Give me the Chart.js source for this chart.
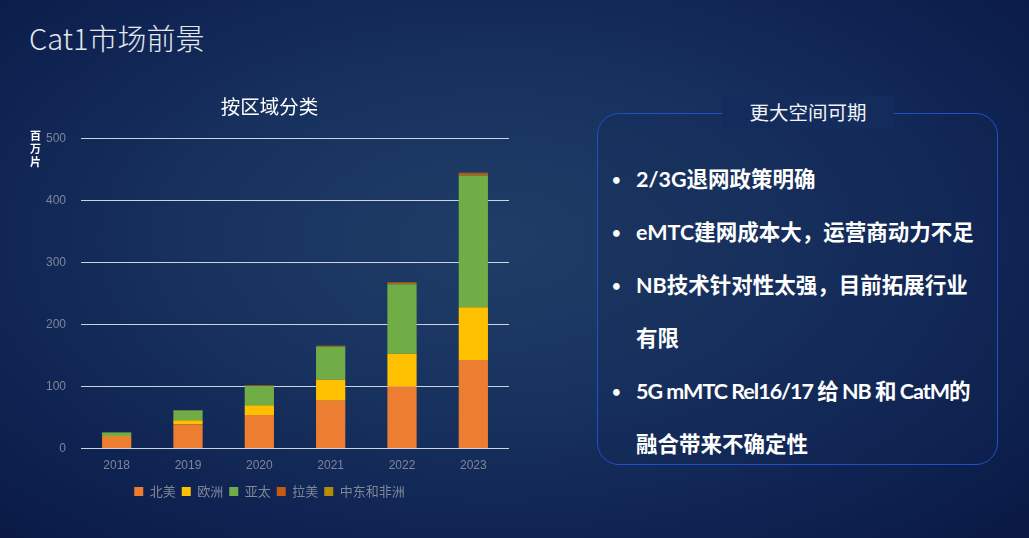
<!DOCTYPE html>
<html>
<head>
<meta charset="utf-8">
<script src="https://cdn.jsdelivr.net/npm/chart.js@4/dist/chart.umd.min.js"></script>
<style>
  html, body { margin: 0; padding: 0; }
  body {
    width: 1029px; height: 538px; overflow: hidden; position: relative;
    font-family: "Noto Sans CJK SC", "Noto Sans", sans-serif;
    background: radial-gradient(ellipse 70% 75% at 48% 45%, #1f3d66 0%, #183260 40%, #0f2352 75%, #0a1a45 100%);
  }
  #title { position: absolute; left: 29px; top: 16px; font-size: 29px; color: #e4e8ef; font-weight: 300; }
  #wrap { position: absolute; left: 0; top: 88px; width: 540px; height: 425px; }
  #unit { position: absolute; left: 30px; top: 129px; font-size: 11px; line-height: 13px; color: #fff; font-weight: bold; width: 12px; }
  #box {
    position: absolute; left: 597px; top: 113px; width: 401px; height: 352px;
    border: 1.5px solid #1d51c4; border-radius: 22px; box-sizing: border-box;
    background: rgba(20, 40, 85, 0.25);
  }
  #boxtitle {
    position: absolute; left: 722px; top: 96px; width: 172px; text-align: center;
    font-size: 19.5px; color: #f2f4f8; background: #142c5b; line-height: 32px;
  }
  #list { position: absolute; left: 610px; top: 153px; color: #fff; font-size: 21.5px; font-weight: bold;
          font-family: Lato, "Noto Sans CJK SC", sans-serif; }
  #list div { position: relative; padding-left: 26px; line-height: 53px; height: 53px; white-space: nowrap; }
  #list div.b::before { content: "•"; position: absolute; left: 2px; top: 0; font-size: 15px; }
  #list div.tight { letter-spacing: -1px; }
</style>
</head>
<body>
<div id="title">Cat1市场前景</div>
<div id="wrap"><canvas id="chart" width="540" height="425"></canvas></div>
<div id="unit">百<br>万<br>片</div>
<div id="box"></div>
<div id="boxtitle">更大空间可期</div>
<div id="list">
  <div class="b">2/3G退网政策明确</div>
  <div class="b">eMTC建网成本大，运营商动力不足</div>
  <div class="b">NB技术针对性太强，目前拓展行业</div>
  <div>有限</div>
  <div class="b tight">5G mMTC Rel16/17 给 NB 和 CatM的</div>
  <div>融合带来不确定性</div>
</div>
<script>
const years = ["2018", "2019", "2020", "2021", "2022", "2023"];
const northAmerica = [19, 39, 54, 77, 100, 143];
const europe = [1.5, 6.5, 16, 34, 53, 85];
const asiaPacific = [5.5, 16, 31, 53, 112, 212];
const latinAmerica = [0.4, 0.5, 0.8, 1.2, 2, 3.5];
const middleEastAfrica = [0.1, 0.2, 0.3, 0.4, 0.6, 1];
const seriesNames = ["北美", "欧洲", "亚太", "拉美", "中东和非洲"];
const seriesColors = ["#ed7d31", "#ffc000", "#70ad47", "#c55a11", "#b58c00"];
const yTicks = [0, 100, 200, 300, 400, 500];

const allSeries = [northAmerica, europe, asiaPacific, latinAmerica, middleEastAfrica];

new Chart(document.getElementById("chart"), {
  type: "bar",
  data: {
    labels: years,
    datasets: allSeries.map((vals, i) => ({
      label: seriesNames[i],
      data: vals,
      backgroundColor: seriesColors[i],
      barPercentage: 0.41,
      categoryPercentage: 1
    }))
  },
  options: {
    responsive: false,
    animation: false,
    layout: { padding: { left: 30, right: 31, top: 0, bottom: 5 } },
    plugins: {
      title: {
        display: true,
        text: "按区域分类",
        color: "#ffffff",
        font: { size: 19.5, family: "Noto Sans CJK SC", weight: "normal" },
        padding: { top: 7, bottom: 20 }
      },
      legend: {
        position: "bottom",
        labels: {
          color: "#7f8796",
          boxWidth: 9,
          boxHeight: 9,
          padding: 6,
          font: { size: 13, family: "Noto Sans CJK SC" }
        }
      },
      tooltip: { enabled: false }
    },
    scales: {
      x: {
        stacked: true,
        grid: { display: false, drawTicks: false },
        border: { display: false },
        afterFit: axis => { axis.height -= 4; },
        ticks: { color: "#7f8796", font: { size: 12 }, padding: 10, maxRotation: 0 }
      },
      y: {
        stacked: true,
        min: 0,
        max: 500,
        afterBuildTicks: axis => { axis.ticks = yTicks.map(v => ({ value: v })); },
        afterFit: axis => { axis.width = 51; },
        grid: { color: "rgba(235,240,250,0.85)", lineWidth: 1, drawTicks: false },
        border: { display: false },
        ticks: { color: "#7f8796", font: { size: 12 }, padding: 15 }
      }
    }
  }
});
</script>
</body>
</html>
